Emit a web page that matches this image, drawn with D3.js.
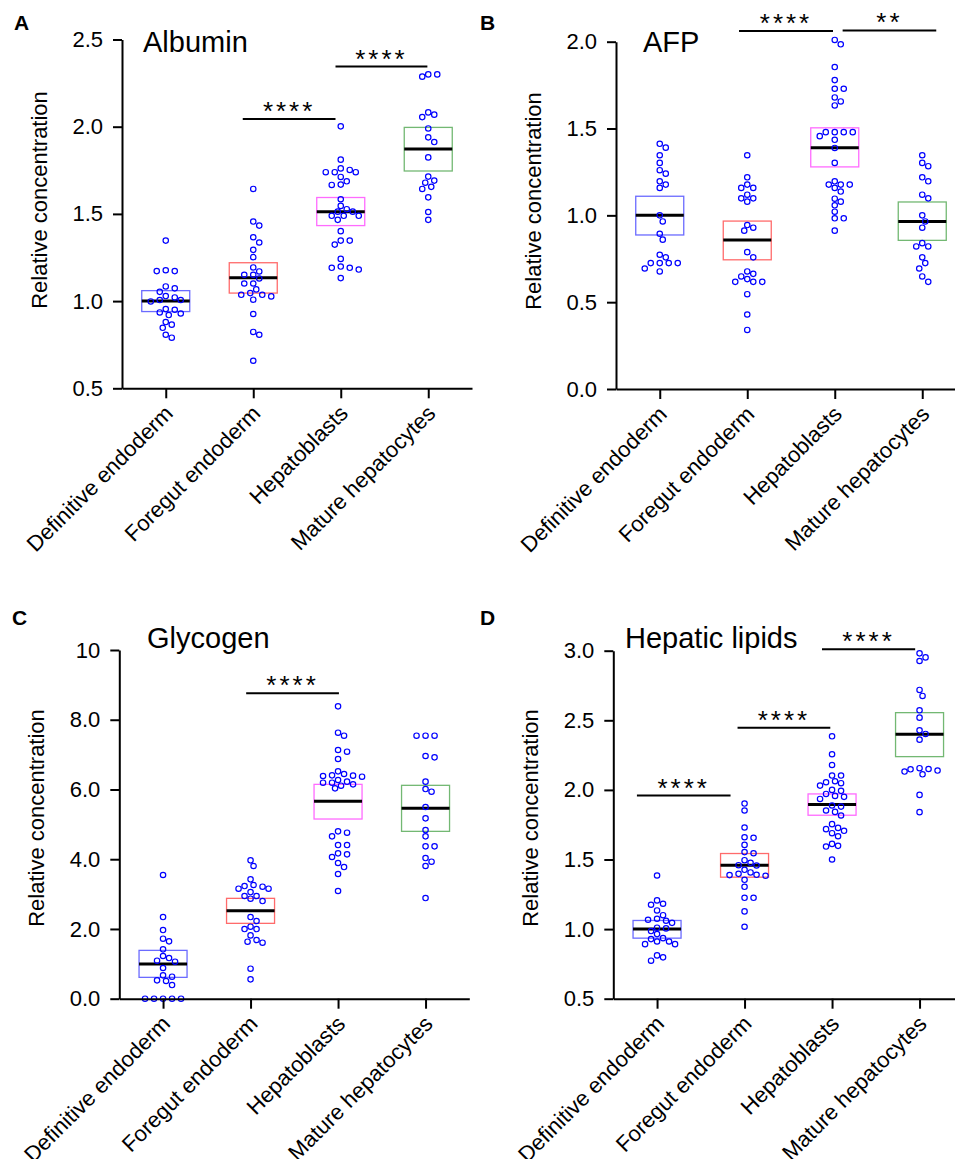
<!DOCTYPE html>
<html>
<head>
<meta charset="utf-8">
<script src="https://cdn.jsdelivr.net/npm/d3@7"></script>
<style>
  body { margin: 0; background: #fff; }
  text { font-family: Arial, "Liberation Sans", sans-serif; fill: #000; }
</style>
</head>
<body>
<script>
const width = 955, height = 1159;

const categories = ["Definitive endoderm", "Foregut endoderm", "Hepatoblasts", "Mature hepatocytes"];
const boxColors = ["#6b6bff", "#ff6b6b", "#ff6bff", "#73b873"];

// Albumin
const albuminValues = [
  [1.347, 1.177, 1.172, 1.172, 1.084, 1.073, 1.053, 1.029, 1.021, 1.006, 1.006, 0.998, 0.954, 0.95, 0.935, 0.929, 0.92, 0.88, 0.865, 0.847, 0.807, 0.79],
  [1.643, 1.456, 1.433, 1.366, 1.336, 1.294, 1.252, 1.193, 1.17, 1.151, 1.151, 1.13, 1.101, 1.101, 1.067, 1.046, 1.036, 1.036, 1.027, 1.008, 0.926, 0.823, 0.807, 0.658],
  [2.002, 1.811, 1.761, 1.752, 1.739, 1.739, 1.739, 1.712, 1.687, 1.668, 1.666, 1.584, 1.546, 1.527, 1.513, 1.513, 1.489, 1.489, 1.489, 1.466, 1.401, 1.347, 1.347, 1.324, 1.242, 1.198, 1.191, 1.191, 1.181, 1.132],
  [2.30, 2.30, 2.287, 2.082, 2.069, 2.055, 1.99, 1.939, 1.912, 1.824, 1.714, 1.691, 1.679, 1.655, 1.643, 1.595, 1.511, 1.466]
];
const albuminMid = [1.0, 1.134, 1.513, 1.872];
const albuminLow = [0.94, 1.046, 1.433, 1.746];
const albuminHigh = [1.06, 1.22, 1.594, 1.996];
const albuminComps = [[0.88, 1.94, 2.044, "****"], [1.94, 2.99, 2.345, "****"]];
const albuminTicks = [0.5, 1.0, 1.5, 2.0, 2.5];
const albuminTickLabels = ["0.5", "1.0", "1.5", "2.0", "2.5"];

// AFP
const afpValues = [
  [1.412, 1.39, 1.346, 1.302, 1.26, 1.24, 1.196, 1.177, 1.158, 1.0, 0.965, 0.894, 0.86, 0.773, 0.758, 0.725, 0.725, 0.725, 0.725, 0.694, 0.677],
  [1.346, 1.219, 1.177, 1.158, 1.158, 1.119, 1.098, 1.098, 1.079, 0.944, 0.929, 0.912, 0.788, 0.758, 0.677, 0.663, 0.648, 0.633, 0.617, 0.617, 0.617, 0.546, 0.429, 0.34],
  [2.01, 1.985, 1.854, 1.779, 1.729, 1.729, 1.679, 1.656, 1.633, 1.479, 1.479, 1.479, 1.479, 1.456, 1.435, 1.388, 1.302, 1.196, 1.177, 1.177, 1.177, 1.158, 1.137, 1.096, 1.079, 1.058, 1.021, 0.983, 0.983, 0.912],
  [1.346, 1.302, 1.283, 1.219, 1.196, 1.119, 1.098, 1.0, 0.965, 0.929, 0.84, 0.821, 0.821, 0.758, 0.725, 0.694, 0.648, 0.617]
];
const afpMid = [1.0, 0.858, 1.39, 0.965];
const afpLow = [0.887, 0.744, 1.279, 0.856];
const afpHigh = [1.11, 0.967, 1.504, 1.077];
const afpComps = [[0.906, 1.98, 2.062, "****"], [2.09, 3.16, 2.065, "**"]];
const afpTicks = [0, 0.5, 1.0, 1.5, 2.0];
const afpTickLabels = ["0.0", "0.5", "1.0", "1.5", "2.0"];

// Glycogen
const glycogenValues = [
  [3.547, 2.342, 1.969, 1.721, 1.644, 1.415, 1.224, 1.166, 1.09, 1.061, 0.88, 0.669, 0.631, 0.526, 0.507, 0.392, 0, 0, 0, 0, 0],
  [3.967, 3.805, 3.423, 3.26, 3.231, 3.212, 3.155, 3.155, 3.059, 2.945, 2.945, 2.868, 2.801, 2.342, 2.228, 2.065, 1.998, 1.998, 1.816, 1.683, 1.635, 1.606, 0.86, 0.555],
  [8.384, 7.629, 7.543, 7.132, 7.084, 6.874, 6.52, 6.444, 6.405, 6.396, 6.386, 6.367, 6.272, 6.224, 6.195, 6.195, 6.147, 6.109, 6.033, 4.799, 4.761, 4.656, 4.407, 4.407, 4.168, 4.14, 4.063, 3.891, 3.776, 3.576, 3.088],
  [7.543, 7.543, 7.543, 6.96, 6.922, 6.224, 6.013, 5.937, 5.497, 5.172, 4.837, 4.656, 4.369, 4.369, 4.034, 3.929, 3.805, 2.887]
];
const glycogenMid = [0.994, 2.524, 5.66, 5.459];
const glycogenLow = [0.612, 2.161, 5.153, 4.799];
const glycogenHigh = [1.386, 2.878, 6.147, 6.119];
const glycogenComps = [[0.95, 2.01, 8.757, "****"]];
const glycogenTicks = [0, 2, 4, 6, 8, 10];
const glycogenTickLabels = ["0.0", "2.0", "4.0", "6.0", "8.0", "10"];

// Hepatic lipids
const lipidValues = [
  [1.385, 1.206, 1.182, 1.175, 1.134, 1.1, 1.074, 1.067, 1.06, 1.045, 1.01, 1.005, 0.986, 0.964, 0.935, 0.928, 0.911, 0.911, 0.892, 0.892, 0.811, 0.797, 0.773],
  [1.902, 1.852, 1.73, 1.66, 1.656, 1.605, 1.553, 1.545, 1.495, 1.476, 1.459, 1.457, 1.426, 1.407, 1.397, 1.39, 1.388, 1.383, 1.354, 1.304, 1.225, 1.225, 1.127, 1.017],
  [2.385, 2.256, 2.179, 2.103, 2.103, 2.062, 2.055, 2.048, 2.031, 2.0, 1.993, 1.971, 1.957, 1.95, 1.935, 1.888, 1.88, 1.852, 1.842, 1.816, 1.754, 1.727, 1.718, 1.706, 1.689, 1.667, 1.612, 1.598, 1.593, 1.5],
  [2.981, 2.952, 2.926, 2.718, 2.675, 2.572, 2.519, 2.428, 2.402, 2.361, 2.156, 2.15, 2.148, 2.139, 2.132, 2.112, 1.964, 1.84]
];
const lipidMid = [1.0, 1.459, 1.895, 2.4];
const lipidLow = [0.935, 1.373, 1.818, 2.239];
const lipidHigh = [1.062, 1.543, 1.971, 2.555];
const lipidComps = [[-0.23, 0.84, 1.959, "****"], [0.92, 1.98, 2.447, "****"], [1.885, 2.95, 3.01, "****"]];
const lipidTicks = [0.5, 1.0, 1.5, 2.0, 2.5, 3.0];
const lipidTickLabels = ["0.5", "1.0", "1.5", "2.0", "2.5", "3.0"];

const panels = [
  { letter: "A", title: "Albumin", values: albuminValues, mid: albuminMid, low: albuminLow, high: albuminHigh,
    comps: albuminComps, domain: [0.5, 2.5], ticks: albuminTicks, tickLabels: albuminTickLabels,
    left: 122, right: 472, top: 39.5, bottom: 388.3, titleX: 143, titleY: 52, letterX: 14, letterY: 30, labelY: 200 },
  { letter: "B", title: "AFP", values: afpValues, mid: afpMid, low: afpLow, high: afpHigh,
    comps: afpComps, domain: [0, 2], ticks: afpTicks, tickLabels: afpTickLabels,
    left: 616, right: 966, top: 41.7, bottom: 389, titleX: 643, titleY: 52, letterX: 480, letterY: 30, labelY: 201 },
  { letter: "C", title: "Glycogen", values: glycogenValues, mid: glycogenMid, low: glycogenLow, high: glycogenHigh,
    comps: glycogenComps, domain: [0, 10], ticks: glycogenTicks, tickLabels: glycogenTickLabels,
    left: 119.3, right: 469.3, top: 650, bottom: 998.7, titleX: 147, titleY: 648, letterX: 12, letterY: 625, labelY: 818 },
  { letter: "D", title: "Hepatic lipids", values: lipidValues, mid: lipidMid, low: lipidLow, high: lipidHigh,
    comps: lipidComps, domain: [0.5, 3.0], ticks: lipidTicks, tickLabels: lipidTickLabels,
    left: 613.3, right: 963.3, top: 650.7, bottom: 998.7, titleX: 625, titleY: 648, letterX: 480, letterY: 625, labelY: 818 }
];

const boxWidth = 48, radius = 2.7;

const svg = d3.select("body").append("svg")
  .attr("width", width)
  .attr("height", height);

// simple swarm: push each point sideways until it clears the ones already placed
function swarm(values, y) {
  const placed = [];
  return values.map(v => {
    const py = y(v);
    let dx = 0;
    for (let k = 0; k < 60; k++) {
      dx = (k % 2 ? 1 : -1) * Math.ceil(k / 2) * 3;
      if (placed.every(p => Math.hypot(p[0] - dx, p[1] - py) >= 6.3)) break;
    }
    placed.push([dx, py]);
    return { dx, py };
  });
}

panels.forEach(p => {
  const g = svg.append("g");

  const x = d3.scalePoint()
    .domain(categories)
    .range([p.left, p.right])
    .padding(0.5);

  const xi = d3.scaleLinear()
    .domain([0, 3])
    .range([x(categories[0]), x(categories[3])]);

  const y = d3.scaleLinear()
    .domain(p.domain)
    .range([p.bottom, p.top]);

  // boxes
  categories.forEach((c, i) => {
    g.append("rect")
      .attr("x", x(c) - boxWidth / 2)
      .attr("y", y(p.high[i]))
      .attr("width", boxWidth)
      .attr("height", y(p.low[i]) - y(p.high[i]))
      .attr("fill", "none")
      .attr("stroke", boxColors[i])
      .attr("stroke-width", 1.3);

    g.append("line")
      .attr("x1", x(c) - boxWidth / 2)
      .attr("x2", x(c) + boxWidth / 2)
      .attr("y1", y(p.mid[i]))
      .attr("y2", y(p.mid[i]))
      .attr("stroke", "#000")
      .attr("stroke-width", 3);

    g.append("g")
      .selectAll("circle")
      .data(swarm(p.values[i], y))
      .enter().append("circle")
      .attr("cx", d => x(c) + d.dx)
      .attr("cy", d => d.py)
      .attr("r", radius)
      .attr("fill", "none")
      .attr("stroke", "#0000ff")
      .attr("stroke-width", 1.2);
  });

  // axes
  const yAxis = g.append("g")
    .attr("transform", `translate(${p.left},0)`)
    .call(d3.axisLeft(y)
      .tickValues(p.ticks)
      .tickFormat((d, i) => p.tickLabels[i])
      .tickSize(9)
      .tickSizeOuter(0)
      .tickPadding(10));

  const xAxis = g.append("g")
    .attr("transform", `translate(0,${p.bottom})`)
    .call(d3.axisBottom(x).tickSize(10).tickSizeOuter(0).tickFormat(""));

  [yAxis, xAxis].forEach(a => {
    a.select(".domain").attr("stroke-width", 2);
    a.selectAll(".tick line").attr("stroke-width", 2);
  });
  yAxis.selectAll("text")
    .style("font-size", "22px")
    .style("font-family", "Arial, 'Liberation Sans', sans-serif");

  categories.forEach(c => {
    g.append("text")
      .attr("transform", `translate(${x(c) + 3},${p.bottom + 21}) rotate(-45)`)
      .attr("text-anchor", "end")
      .attr("dy", "0.35em")
      .style("font-size", "22px")
      .text(c);
  });

  g.append("text")
    .attr("transform", `translate(${p.left - 75},${p.labelY}) rotate(-90)`)
    .attr("text-anchor", "middle")
    .style("font-size", "22px")
    .text("Relative concentration");

  // significance bars
  p.comps.forEach(([a, b, v, label]) => {
    g.append("line")
      .attr("x1", xi(a))
      .attr("x2", xi(b))
      .attr("y1", y(v))
      .attr("y2", y(v))
      .attr("stroke", "#000")
      .attr("stroke-width", 2);

    g.append("text")
      .attr("x", (xi(a) + xi(b)) / 2)
      .attr("y", y(v) + 1)
      .attr("text-anchor", "middle")
      .style("font-size", "26px")
      .style("letter-spacing", "3px")
      .text(label);
  });

  g.append("text")
    .attr("x", p.titleX)
    .attr("y", p.titleY)
    .style("font-size", "29px")
    .text(p.title);

  g.append("text")
    .attr("x", p.letterX)
    .attr("y", p.letterY)
    .style("font-size", "21px")
    .style("font-weight", "bold")
    .text(p.letter);
});
</script>
</body>
</html>
